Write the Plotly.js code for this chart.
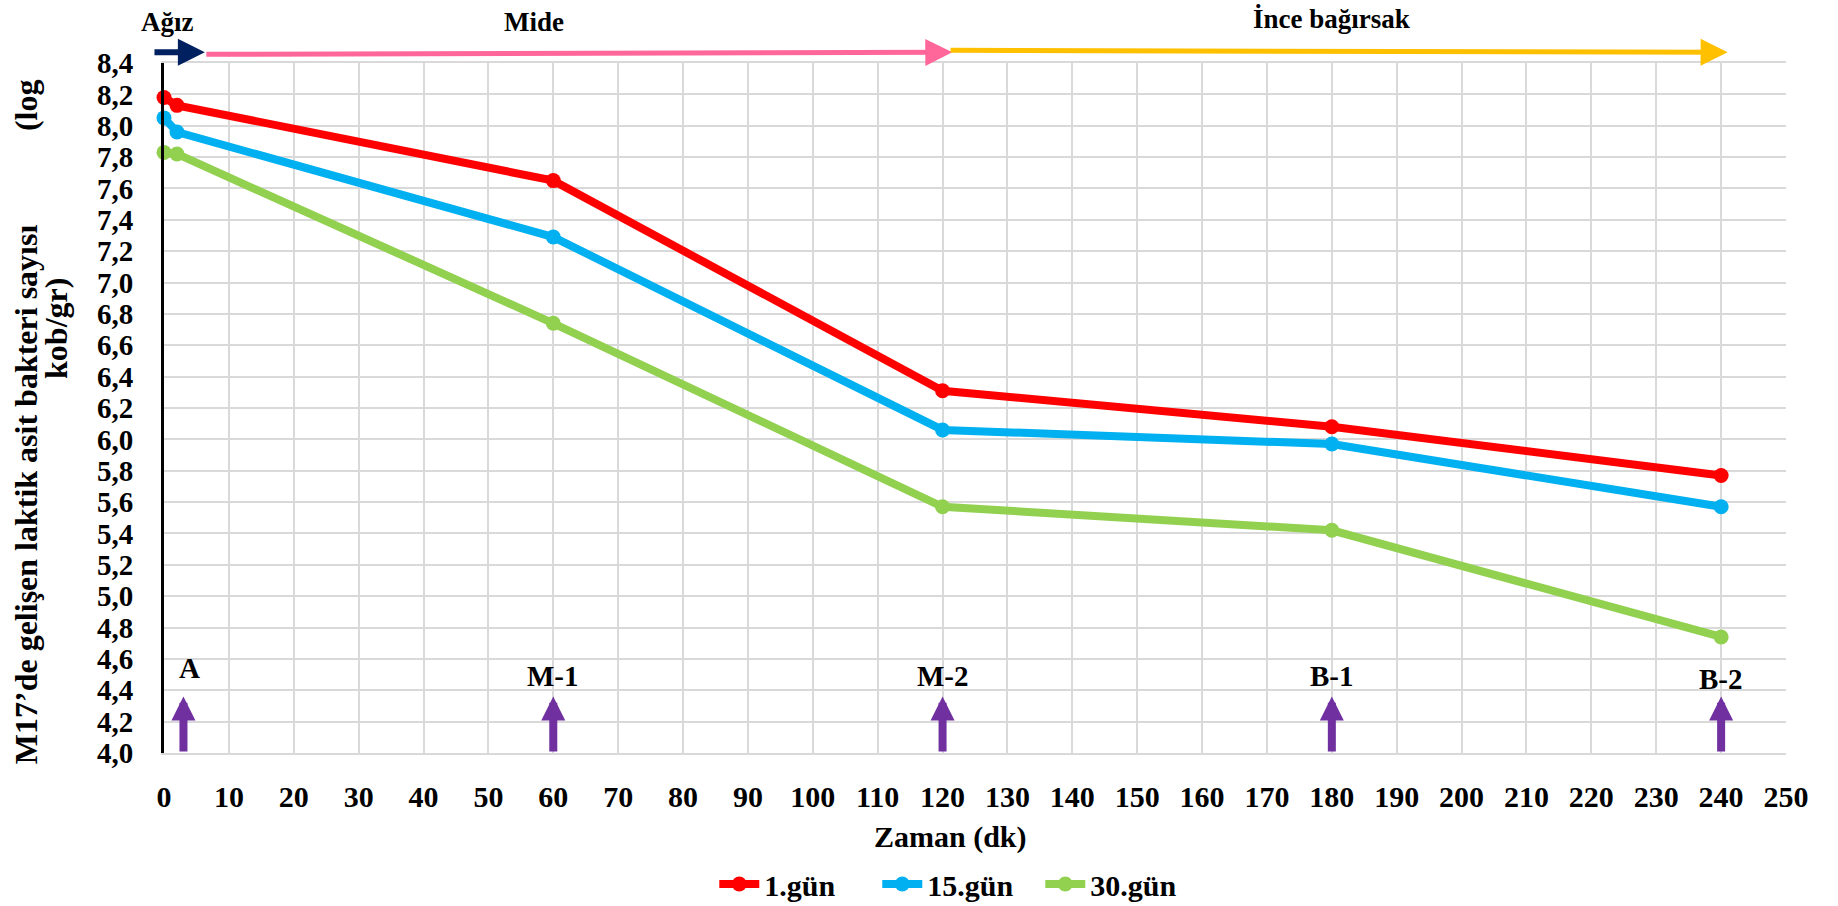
<!DOCTYPE html>
<html>
<head>
<meta charset="utf-8">
<script src="https://cdn.plot.ly/plotly-3.0.1.min.js"></script>
<style>html,body{margin:0;padding:0;background:#fff;}#chart{width:1838px;height:906px;}</style>
</head>
<body>
<div id="chart"></div>
<script>
// ---- data ----
const timeMin = [0, 2, 60, 120, 180, 240];
const seriesNames = ['1.gün', '15.gün', '30.gün'];
const day1 = [8.18, 8.13, 7.65, 6.31, 6.08, 5.77];
const day15 = [8.05, 7.96, 7.29, 6.06, 5.97, 5.57];
const day30 = [7.83, 7.82, 6.74, 5.57, 5.42, 4.74];
const sampleLabels = ['A', 'M-1', 'M-2', 'B-1', 'B-2'];
const sampleTimes = [3, 60, 120, 180, 240];
const sectionLabels = ['Ağız', 'Mide', 'İnce bağırsak'];
const sectionLabelX = [0.5, 57, 180];
const sectionStart = [-1.7, 6.3, 121];
const sectionEnd = [6.3, 121.5, 241];
const xTitle = 'Zaman (dk)';
const yTitleMain = 'M17’de gelişen laktik asit bakteri sayısı';
const yTitleLog = '(log';
const yTitleUnit = 'kob/gr)';

const colors = ['#FF0000', '#00B0F0', '#92D050'];
const FONT = 'Liberation Serif, Times New Roman, serif';

const allSeries = [day1, day15, day30];
const traces = allSeries.map((vals, i) => ({
  x: timeMin, y: vals, name: seriesNames[i], type: 'scatter', mode: 'lines+markers',
  line: {color: colors[i], width: 8},
  marker: {color: colors[i], size: 15},
  cliponaxis: false
}));

const annotations = [];
// section labels and arrows at top
const secColors = ['#002060', '#FF6699', '#FFC000'];
const secWidths = [6, 5, 5];
const secSizes = [0.9, 1.08, 1.08];
const secAy = [0, 2, -2];
sectionLabels.forEach((t, i) => {
  annotations.push({
    text: t, x: sectionLabelX[i], xref: 'x', y: i === 2 ? 1.064 : 1.06, yref: 'paper',
    showarrow: false, xanchor: 'center', yanchor: 'middle',
    font: {family: FONT, size: 27, color: '#000', weight: 'bold'}
  });
  annotations.push({
    text: '', x: sectionEnd[i], xref: 'x', y: 1.0155, yref: 'paper',
    ax: sectionStart[i], axref: 'x', ay: secAy[i], ayref: 'pixel',
    showarrow: true, arrowhead: 2, arrowsize: secSizes[i], arrowwidth: secWidths[i],
    arrowcolor: secColors[i], standoff: 0, startstandoff: 0
  });
});
// sampling points
sampleLabels.forEach((t, i) => {
  annotations.push({
    text: t, x: i === 0 ? 4 : sampleTimes[i], xref: 'x', y: i === 0 ? 4.54 : (i === 4 ? 4.47 : 4.49), yref: 'y',
    showarrow: false, xanchor: 'center', yanchor: 'middle',
    font: {family: FONT, size: 29, color: '#000', weight: 'bold'}
  });
  annotations.push({
    text: '', x: sampleTimes[i], xref: 'x', y: 4.36, yref: 'y',
    ax: sampleTimes[i], axref: 'x', ay: 4.0, ayref: 'y',
    showarrow: true, arrowhead: 2, arrowsize: 0.6, arrowwidth: 8,
    arrowcolor: '#7030A0', standoff: 0, startstandoff: 0
  });
});
// y axis title pieces
annotations.push({text: yTitleMain, x: -0.0851, xref: 'paper', y: 0.375, yref: 'paper', textangle: -90,
  showarrow: false, xanchor: 'center', yanchor: 'middle', font: {family: FONT, size: 32, color: '#000', weight: 'bold'}});
annotations.push({text: yTitleLog, x: -0.0851, xref: 'paper', y: 0.939, yref: 'paper', textangle: -90,
  showarrow: false, xanchor: 'center', yanchor: 'middle', font: {family: FONT, size: 32, color: '#000', weight: 'bold'}});
annotations.push({text: yTitleUnit, x: -0.0666, xref: 'paper', y: 0.616, yref: 'paper', textangle: -90,
  showarrow: false, xanchor: 'center', yanchor: 'middle', font: {family: FONT, size: 32, color: '#000', weight: 'bold'}});
// x axis title
annotations.push({text: xTitle, x: 0.485, xref: 'paper', y: -0.122, yref: 'paper',
  showarrow: false, xanchor: 'center', yanchor: 'middle', font: {family: FONT, size: 30, color: '#000', weight: 'bold'}});

const layout = {
  width: 1838, height: 906,
  margin: {l: 164, r: 52, t: 63, b: 153},
  paper_bgcolor: '#fff', plot_bgcolor: '#fff',
  separators: ', ',
  showlegend: true,
  legend: {orientation: 'h', x: 0.49, xanchor: 'center', xref: 'paper', y: 0.0243, yref: 'container', yanchor: 'middle',
    font: {family: FONT, size: 30, color: '#000', weight: 'bold'}, itemwidth: 40, entrywidth: 108, traceorder: 'normal',
    tracegroupgap: 0},
  xaxis: {
    range: [0, 250], dtick: 10, tick0: 0, showgrid: true, gridcolor: '#D9D9D9', gridwidth: 2,
    showline: true, linecolor: '#D9D9D9', linewidth: 2, mirror: true, zeroline: false,
    ticks: '', ticklabelstandoff: 16, automargin: false,
    tickfont: {family: FONT, size: 30, color: '#000', weight: 'bold'}
  },
  yaxis: {
    range: [4.0, 8.4], dtick: 0.2, tick0: 4.0, tickformat: '.1f', showgrid: true, gridcolor: '#D9D9D9', gridwidth: 2,
    showline: true, linecolor: '#000', linewidth: 3, zeroline: false, automargin: false,
    ticks: '', ticklabelstandoff: 22,
    tickfont: {family: FONT, size: 29, color: '#000', weight: 'bold'}
  },
  annotations: annotations
};

Plotly.newPlot('chart', traces, layout, {displayModeBar: false, staticPlot: true});
</script>
</body>
</html>
